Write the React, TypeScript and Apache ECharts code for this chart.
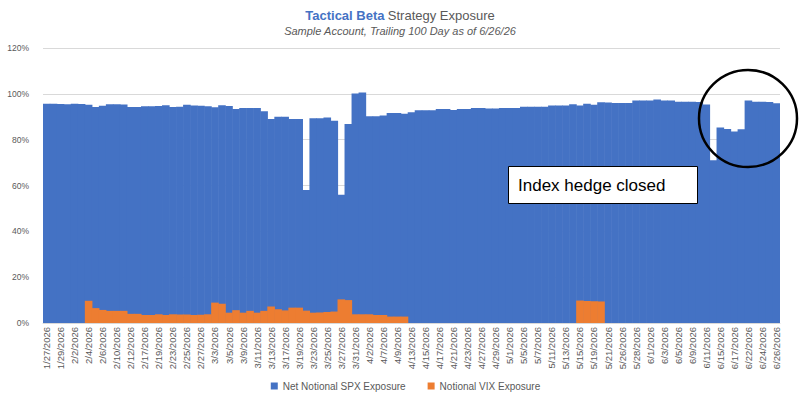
import React, { useEffect, useRef } from "react";
import * as echarts from "echarts";

const dates: string[] = [
  "1/27/2026", "1/28/2026", "1/29/2026", "1/30/2026", "2/2/2026", "2/3/2026", "2/4/2026", "2/5/2026", "2/6/2026", "2/9/2026",
  "2/10/2026", "2/11/2026", "2/12/2026", "2/13/2026", "2/17/2026", "2/18/2026", "2/19/2026", "2/20/2026", "2/23/2026", "2/24/2026",
  "2/25/2026", "2/26/2026", "2/27/2026", "3/2/2026", "3/3/2026", "3/4/2026", "3/5/2026", "3/6/2026", "3/9/2026", "3/10/2026",
  "3/11/2026", "3/12/2026", "3/13/2026", "3/16/2026", "3/17/2026", "3/18/2026", "3/19/2026", "3/20/2026", "3/23/2026", "3/24/2026",
  "3/25/2026", "3/26/2026", "3/27/2026", "3/30/2026", "3/31/2026", "4/1/2026", "4/2/2026", "4/6/2026", "4/7/2026", "4/8/2026",
  "4/9/2026", "4/10/2026", "4/13/2026", "4/14/2026", "4/15/2026", "4/16/2026", "4/17/2026", "4/20/2026", "4/21/2026", "4/22/2026",
  "4/23/2026", "4/24/2026", "4/27/2026", "4/28/2026", "4/29/2026", "4/30/2026", "5/1/2026", "5/4/2026", "5/5/2026", "5/6/2026",
  "5/7/2026", "5/8/2026", "5/11/2026", "5/12/2026", "5/13/2026", "5/14/2026", "5/15/2026", "5/18/2026", "5/19/2026", "5/20/2026",
  "5/21/2026", "5/22/2026", "5/26/2026", "5/27/2026", "5/28/2026", "5/29/2026", "6/1/2026", "6/2/2026", "6/3/2026", "6/4/2026",
  "6/5/2026", "6/8/2026", "6/9/2026", "6/10/2026", "6/11/2026", "6/12/2026", "6/15/2026", "6/16/2026", "6/17/2026", "6/18/2026",
  "6/22/2026", "6/23/2026", "6/24/2026", "6/25/2026", "6/26/2026",
];

const spxExposure: number[] = [
  95.7, 95.7, 95.6, 95.5, 95.7, 95.6, 95.2, 94.3, 94.8, 95.5,
  95.5, 95.4, 94.3, 94.3, 94.6, 94.6, 94.7, 95.0, 94.3, 94.4,
  95.2, 94.9, 94.8, 94.6, 94.1, 95.0, 94.7, 93.4, 93.8, 93.8,
  93.8, 92.4, 89.0, 90.0, 90.0, 89.0, 89.0, 58.0, 89.3, 89.3,
  89.7, 88.3, 56.0, 86.8, 100.2, 100.6, 90.2, 90.2, 90.5, 91.6,
  91.6, 91.3, 92.0, 92.8, 92.8, 92.8, 93.4, 93.4, 92.9, 93.4,
  93.4, 93.8, 93.8, 93.6, 93.6, 93.8, 93.8, 93.8, 94.4, 94.4,
  94.4, 94.4, 94.9, 94.9, 94.9, 95.5, 94.9, 95.7, 95.2, 96.3,
  96.2, 96.0, 96.0, 96.0, 97.1, 97.1, 97.1, 97.5, 97.1, 97.1,
  96.5, 96.5, 96.5, 96.4, 95.3, 71.0, 85.3, 84.7, 83.6, 84.6,
  97.1, 96.5, 96.5, 96.4, 95.9,
];

const vixExposure: number[] = [
  0, 0, 0, 0, 0, 0, 9.7, 6.5, 5.7, 5.3,
  5.3, 5.3, 4.0, 4.0, 3.5, 3.5, 3.8, 3.5, 3.8, 3.7,
  3.7, 3.5, 3.6, 3.8, 8.9, 8.4, 4.5, 5.6, 4.5, 5.3,
  4.5, 5.3, 7.2, 6.0, 5.5, 6.7, 6.7, 5.4, 4.5, 4.6,
  4.8, 5.0, 10.3, 10.0, 3.8, 3.8, 3.8, 3.5, 3.5, 2.8,
  2.8, 2.8, 0, 0, 0, 0, 0, 0, 0, 0,
  0, 0, 0, 0, 0, 0, 0, 0, 0, 0,
  0, 0, 0, 0, 0, 0, 9.8, 9.6, 9.5, 9.4,
  0, 0, 0, 0, 0, 0, 0, 0, 0, 0,
  0, 0, 0, 0, 0, 0, 0, 0, 0, 0,
  0, 0, 0, 0, 0,
];

const seriesNames: string[] = ["Net Notional SPX Exposure", "Notional VIX Exposure"];
const titleBold = "Tactical Beta";
const titleRest = "Strategy Exposure";
const subtitle = "Sample Account, Trailing 100 Day as of 6/26/26";
const annotation = "Index hedge closed";

const FONT = "'Liberation Sans', Arial, sans-serif";
const BLUE = "#4472C4";
const ORANGE = "#ED7D31";
const GREY = "#595959";

export default function App() {
  const ref = useRef<HTMLDivElement>(null);
  useEffect(() => {
    if (!ref.current) return;
    const chart = echarts.init(ref.current, undefined, { renderer: "svg" });
    chart.setOption({
      animation: false,
      backgroundColor: "#ffffff",
      textStyle: { fontFamily: FONT },
      grid: { left: 43, right: 31, top: 48, bottom: 93, containLabel: false },
      legend: {
        bottom: 20,
        left: "center",
        icon: "rect",
        itemWidth: 7,
        itemHeight: 7,
        itemGap: 22,
        textStyle: { fontFamily: FONT, fontSize: 10, color: GREY },
        data: seriesNames,
      },
      xAxis: {
        type: "category",
        data: dates,
        boundaryGap: true,
        axisLine: { show: true, lineStyle: { color: "#d9d9d9" } },
        axisTick: { show: false },
        axisLabel: {
          interval: 1,
          rotate: 90,
          fontSize: 9.5,
          color: GREY,
          fontFamily: FONT,
          margin: 4,
        },
      },
      yAxis: {
        type: "value",
        min: 0,
        max: 120,
        interval: 20,
        axisLine: { show: false },
        axisTick: { show: false },
        splitLine: { lineStyle: { color: "#d9d9d9" } },
        axisLabel: {
          formatter: "{value}%",
          fontSize: 8.5,
          color: GREY,
          fontFamily: FONT,
          margin: 14,
        },
      },
      series: [
        {
          name: seriesNames[0],
          type: "bar",
          data: spxExposure,
          barWidth: 7.6,
          barGap: "-100%",
          itemStyle: { color: BLUE },
        },
        {
          name: seriesNames[1],
          type: "bar",
          data: vixExposure,
          barWidth: 7.6,
          barGap: "-100%",
          itemStyle: { color: ORANGE },
        },
      ],
      graphic: [
        {
          type: "text",
          x: 400,
          y: 15,
          style: {
            text: `{b|${titleBold}} {n|${titleRest}}`,
            align: "center",
            verticalAlign: "middle",
            rich: {
              b: { fontFamily: FONT, fontSize: 13, fontWeight: "bold", fill: BLUE, color: BLUE },
              n: { fontFamily: FONT, fontSize: 13, fill: GREY, color: GREY },
            },
          },
        },
        {
          type: "text",
          x: 400,
          y: 31,
          style: {
            text: subtitle,
            align: "center",
            verticalAlign: "middle",
            fontFamily: FONT,
            fontSize: 11,
            fontStyle: "italic",
            fill: GREY,
          },
        },
        {
          type: "rect",
          shape: { x: 508.5, y: 166.5, width: 189, height: 37 },
          style: { fill: "#ffffff", stroke: "#000000", lineWidth: 1 },
          z: 100,
        },
        {
          type: "text",
          x: 518,
          y: 185,
          z: 101,
          style: {
            text: annotation,
            align: "left",
            verticalAlign: "middle",
            fontFamily: FONT,
            fontSize: 17,
            fill: "#000000",
          },
        },
        {
          type: "ellipse",
          shape: { cx: 748, cy: 118.5, rx: 49, ry: 48.5 },
          style: { fill: "none", stroke: "#000000", lineWidth: 2.5 },
          z: 100,
        },
      ],
    });
    return () => chart.dispose();
  }, []);
  return (
    <div
      ref={ref}
      style={{ position: "fixed", left: 0, top: 0, width: 811, height: 416, background: "#fff" }}
    />
  );
}
